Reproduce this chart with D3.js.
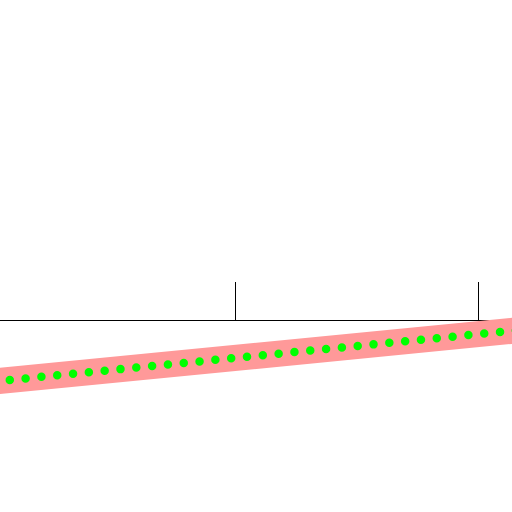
<!DOCTYPE html>
<html>
<head>
<meta charset="utf-8">
<script src="https://cdn.jsdelivr.net/npm/d3@7"></script>
<style>
  body { margin: 0; background: #fff; }
  svg { display: block; }
</style>
</head>
<body>
<script>
const tickValues = [1, 2];
const lineX = [-0.05, 2.2];
const lineY = [-0.786, -0.1175];

const width = 512;
const height = 512;

let svg = d3.select("body")
  .append("svg")
  .attr("width", width)
  .attr("height", height);

let xScale = d3.scaleLinear()
  .domain([0, 2.2])
  .range([-8, 526.6]);

let yScale = d3.scaleLinear()
  .domain([-1, 1])
  .range([400, 240]);

let xAxis = d3.axisTop(xScale)
  .tickValues(tickValues)
  .tickSize(38)
  .tickSizeOuter(0)
  .tickFormat("");

svg.append("g")
  .attr("transform", `translate(0,${yScale(0)})`)
  .call(xAxis);

let lineData = lineX.map((x, i) => ({x: x, y: lineY[i]}));

let line = d3.line()
  .x(d => xScale(d.x))
  .y(d => yScale(d.y));

// thick pink band
svg.append("path")
  .datum(lineData)
  .attr("fill", "none")
  .attr("stroke", "#ff9999")
  .attr("stroke-width", 26)
  .attr("d", line);

// green dots along the same line
svg.append("path")
  .datum(lineData)
  .attr("fill", "none")
  .attr("stroke", "#00ff00")
  .attr("stroke-width", 8.5)
  .attr("stroke-linecap", "round")
  .attr("stroke-dasharray", "0,15.89")
  .attr("stroke-dashoffset", 1.7)
  .attr("d", line);
</script>
</body>
</html>
